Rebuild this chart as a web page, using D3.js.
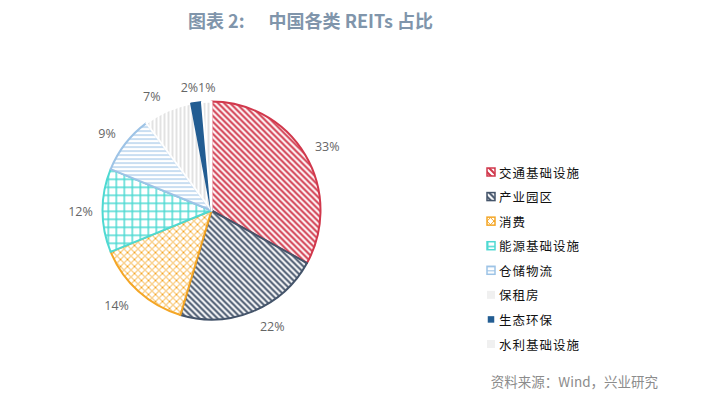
<!DOCTYPE html>
<html>
<head>
<meta charset="utf-8">
<script src="https://cdn.jsdelivr.net/npm/d3@7"></script>
<style>
  body { margin: 0; background: #fff; }
  svg { display: block; font-family: "Noto Sans CJK SC", "Noto Sans", sans-serif; }
</style>
</head>
<body>
<svg id="chart"></svg>
<script>
// data
const categories = ["交通基础设施", "产业园区", "消费", "能源基础设施", "仓储物流", "保租房", "生态环保", "水利基础设施"];
const shares = [33, 21.6, 14.2, 12.4, 8.6, 7.2, 1.6, 1.4];
const labels = ["33%", "22%", "14%", "12%", "9%", "7%", "2%", "1%"];

// colours / pattern kinds, one per category
const colors = ["#d1384c", "#44546a", "#f4a626", "#4ed9d2", "#9dc3e6", "#e2e2e2", "#235d92", "#e2e2e2"];
const kinds = ["diag", "diag", "diamond", "grid", "hline", "vline", "solid", "vline"];

const width = 712;
const height = 399;
const cx = 211.5;
const cy = 210.5;
const radius = 109;

const svg = d3.select("#chart").attr("width", width).attr("height", height);
const defs = svg.append("defs");

const makePatterns = () => {
  kinds.forEach((k, i) => {
    const c = colors[i];
    if (k === "solid") return;
    let size = 6;
    if (k === "diamond") size = 7;
    if (k === "grid") size = 8;
    if (k === "hline" || k === "vline") size = 4;
    const p = defs
      .append("pattern")
      .attr("id", "pat-" + i)
      .attr("patternUnits", "userSpaceOnUse")
      .attr("width", size)
      .attr("height", size);
    p.append("rect").attr("width", size).attr("height", size).attr("fill", "#fff");
    const s = size;
    if (k === "diag") {
      p.append("path")
        .attr("d", `M-1,-1 L${s + 1},${s + 1} M${-1},${s - 1} L1,${s + 1} M${s - 1},-1 L${s + 1},1`)
        .attr("stroke", c)
        .attr("stroke-width", 2);
    } else if (k === "diamond") {
      p.append("path")
        .attr("d", `M0,0 L${s},${s} M${s},0 L0,${s}`)
        .attr("stroke", c)
        .attr("stroke-width", 1);
    } else if (k === "grid") {
      p.append("path")
        .attr("d", `M0.75,0 V${s} M0,0.75 H${s}`)
        .attr("stroke", c)
        .attr("stroke-width", 1.5);
    } else if (k === "hline") {
      p.append("path")
        .attr("d", `M0,0.5 H${s}`)
        .attr("stroke", c)
        .attr("stroke-width", 1.2);
    } else if (k === "vline") {
      p.append("path")
        .attr("d", `M1,0 V${s}`)
        .attr("stroke", c)
        .attr("stroke-width", 2);
    }
  });
};

const fillFor = (i) => (kinds[i] === "solid" ? colors[i] : "url(#pat-" + i + ")");

const drawTitle = () => {
  const title = svg
    .append("text")
    .attr("x", 188)
    .attr("y", 28)
    .attr("font-size", 18)
    .attr("font-weight", "bold")
    .attr("fill", "#8095ab");
  title.append("tspan").text("图表 2:");
  title.append("tspan").attr("dx", 24).text("中国各类 REITs 占比");

  svg
    .append("text")
    .attr("x", 658)
    .attr("y", 387)
    .attr("text-anchor", "end")
    .attr("font-size", 13.5)
    .attr("fill", "#8c8c8c")
    .text("资料来源：Wind，兴业研究");
};

const drawPie = () => {
  const pie = d3.pie().sort(null).value((d) => d);
  const arcs = pie(shares);
  const arc = d3.arc().innerRadius(0).outerRadius(radius);
  const g = svg.append("g").attr("transform", `translate(${cx},${cy})`);

  g.selectAll("path.slice")
    .data(arcs)
    .enter()
    .append("path")
    .attr("class", "slice")
    .attr("d", arc)
    .attr("fill", (d, i) => fillFor(i))
    .attr("stroke", (d, i) => (kinds[i] === "vline" ? "#fff" : colors[i]))
    .attr("stroke-width", 2)
    .attr("stroke-linejoin", "round");

  // percentage labels outside the pie (best-fit offsets like the original)
  const labelArc = d3.arc().innerRadius(radius + 22).outerRadius(radius + 22);
  const nudge = [[3, 3], [11, -5], [-7, -2], [0, 1], [-1, 3], [-7, 6], [-4, 7], [1, 8]];
  g.selectAll("text.pct")
    .data(arcs)
    .enter()
    .append("text")
    .attr("class", "pct")
    .attr("x", (d, i) => labelArc.centroid(d)[0] + nudge[i][0])
    .attr("y", (d, i) => labelArc.centroid(d)[1] + nudge[i][1])
    .attr("text-anchor", "middle")
    .attr("dominant-baseline", "central")
    .attr("font-size", 12.5)
    .attr("fill", "#666")
    .attr("font-family", "'Open Sans', 'Noto Sans', sans-serif")
    .text((d, i) => labels[i]);
};

const drawLegend = () => {
  const y = d3
    .scalePoint()
    .domain(categories)
    .range([172, 344]);

  const items = svg
    .selectAll("g.legend-item")
    .data(categories)
    .enter()
    .append("g")
    .attr("class", "legend-item")
    .attr("transform", (d) => `translate(487,${y(d)})`);

  items
    .append("rect")
    .attr("x", (d, i) => (kinds[i] === "solid" ? 1.5 : 0))
    .attr("y", (d, i) => (kinds[i] === "solid" ? -2.5 : -4))
    .attr("width", (d, i) => (kinds[i] === "solid" ? 5 : 8))
    .attr("height", (d, i) => (kinds[i] === "solid" ? 5 : 8))
    .attr("fill", (d, i) => (kinds[i] === "vline" ? "#f0f0f0" : fillFor(i)))
    .attr("stroke", (d, i) => (kinds[i] === "vline" ? "none" : colors[i]))
    .attr("stroke-width", 1.5);

  items
    .append("text")
    .attr("x", 12)
    .attr("y", 0)
    .attr("dominant-baseline", "central")
    .attr("font-size", 12.5)
    .attr("fill", "#111")
    .attr("letter-spacing", 1)
    .text((d) => d);
};

makePatterns();
drawTitle();
drawPie();
drawLegend();
</script>
</body>
</html>
